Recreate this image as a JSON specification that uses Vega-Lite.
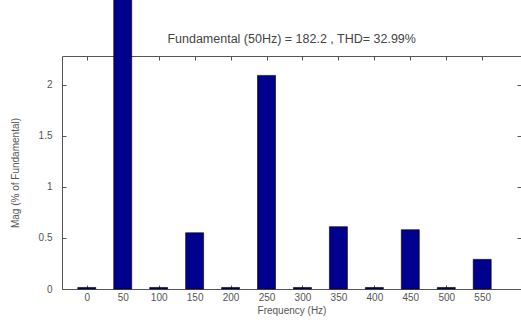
{
  "$schema": "https://vega.github.io/schema/vega-lite/v6.json",
  "autosize": "none",
  "width": 459,
  "height": 233,
  "padding": {"left": 62, "top": 56, "right": 0, "bottom": 42},
  "background": "white",
  "config": {
    "view": {"stroke": null},
    "font": "Liberation Sans",
    "axis": {
      "grid": false,
      "domainColor": "#555555",
      "tickColor": "#555555",
      "labelColor": "#555555",
      "titleColor": "#555555",
      "labelFontSize": 10,
      "titleFontSize": 10,
      "titleFontWeight": "normal",
      "domainWidth": 1,
      "tickWidth": 1
    }
  },
  "data": {
    "values": [
      {"freq": 0, "mag": 0.015},
      {"freq": 50, "mag": 100},
      {"freq": 100, "mag": 0.015},
      {"freq": 150, "mag": 0.55},
      {"freq": 200, "mag": 0.015},
      {"freq": 250, "mag": 2.09},
      {"freq": 300, "mag": 0.015},
      {"freq": 350, "mag": 0.61},
      {"freq": 400, "mag": 0.015},
      {"freq": 450, "mag": 0.58},
      {"freq": 500, "mag": 0.015},
      {"freq": 550, "mag": 0.29}
    ]
  },
  "layer": [
    {
      "mark": {"type": "bar", "size": 18, "fill": "#00008f", "stroke": "#000000", "strokeWidth": 0.6, "clip": false},
      "encoding": {
        "x": {
          "field": "freq",
          "type": "quantitative",
          "scale": {"domain": [-27.5, 597], "nice": false, "zero": false},
          "axis": {
            "orient": "bottom",
            "values": [0, 50, 100, 150, 200, 250, 300, 350, 400, 450, 500, 550],
            "tickSize": -4,
            "labelPadding": 7,
            "labelFlush": false,
            "labelOverlap": false,
            "title": "Frequency (Hz)",
            "titlePadding": 3
          }
        },
        "y": {
          "field": "mag",
          "type": "quantitative",
          "scale": {"domain": [0, 2.28], "nice": false},
          "axis": {
            "orient": "left",
            "values": [0, 0.5, 1, 1.5, 2],
            "format": "~g",
            "tickSize": -4,
            "labelPadding": 14,
            "title": "Mag (% of Fundamental)",
            "titlePadding": 18
          }
        }
      }
    },
    {
      "mark": {"type": "point", "opacity": 0, "clip": true},
      "encoding": {
        "x": {
          "field": "freq",
          "type": "quantitative",
          "axis": {
            "orient": "top",
            "values": [0, 50, 100, 150, 200, 250, 300, 350, 400, 450, 500, 550],
            "tickSize": -4,
            "labels": false,
            "title": null
          }
        },
        "y": {
          "field": "mag",
          "type": "quantitative",
          "axis": {
            "orient": "right",
            "values": [0, 0.5, 1, 1.5, 2],
            "tickSize": -4,
            "labels": false,
            "title": null
          }
        }
      }
    },
    {
      "data": {"values": [{"freq": 285, "mag": 2.45, "label": "Fundamental (50Hz) = 182.2 , THD= 32.99%"}]},
      "mark": {"type": "text", "fontSize": 12.5, "color": "#444444", "align": "center", "baseline": "middle", "clip": false},
      "encoding": {
        "x": {"field": "freq", "type": "quantitative", "axis": null},
        "y": {"field": "mag", "type": "quantitative", "axis": null},
        "text": {"field": "label"}
      }
    }
  ],
  "resolve": {"axis": {"x": "independent", "y": "independent"}}
}
